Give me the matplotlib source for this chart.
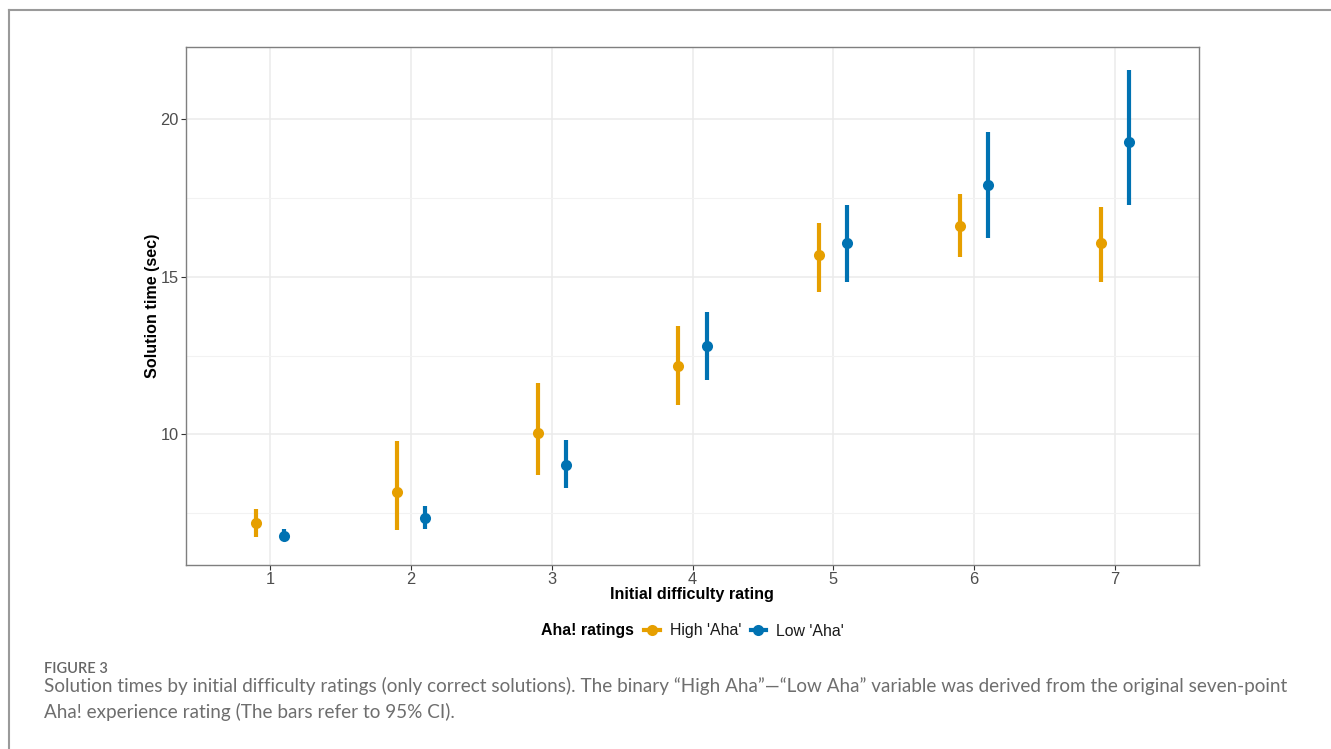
import matplotlib
matplotlib.use("Agg")
import matplotlib.pyplot as plt
from matplotlib.lines import Line2D
import numpy as np

# data (means and 95% CI)
ratings = [1, 2, 3, 4, 5, 6, 7]
high_mean = [7.17, 8.17, 10.04, 12.17, 15.69, 16.61, 16.09]
high_lo = [6.75, 6.95, 8.71, 10.93, 14.52, 15.63, 14.84]
high_hi = [7.62, 9.79, 11.63, 13.44, 16.71, 17.63, 17.22]
low_mean = [6.77, 7.33, 9.03, 12.80, 16.07, 17.91, 19.29]
low_lo = [6.61, 6.99, 8.30, 11.73, 14.84, 16.24, 17.28]
low_hi = [6.98, 7.73, 9.82, 13.88, 17.28, 19.60, 21.57]
group_names = ["High 'Aha'", "Low 'Aha'"]
orange = "#E69F00"
blue = "#0072B2"

plt.rcParams['font.family'] = ['Liberation Sans', 'DejaVu Sans']

fig = plt.figure(figsize=(13.31, 7.49), dpi=100)
W, H = 1331, 749
# axes box in pixels: left 186, right 1199, top 47, bottom 565
ax = fig.add_axes([186 / W, 1 - 565 / H, (1199 - 186) / W, (565 - 47) / H])

x = np.array(ratings, dtype=float)
for xs, m, lo, hi, c in [(x - 0.1, high_mean, high_lo, high_hi, orange),
                         (x + 0.1, low_mean, low_lo, low_hi, blue)]:
    ax.vlines(xs, lo, hi, color=c, lw=3, zorder=3)
    ax.plot(xs, m, 'o', color=c, ms=8, zorder=4, mec='none')

ax.set_xlim(0.4, 7.6)
ax.set_ylim(5.85, 22.3)
ax.set_xticks(ratings)
ax.set_yticks([10, 15, 20])
ax.set_yticks([7.5, 12.5, 17.5], minor=True)
ax.grid(True, which='major', color='#EBEBEB', lw=1.1, zorder=0)
ax.grid(True, which='minor', axis='y', color='#F2F2F2', lw=0.8, zorder=0)
ax.set_axisbelow(True)
ax.tick_params(axis='both', which='major', length=3.5, width=0.8, color='#333333',
               labelsize=11.8, labelcolor='#4D4D4D', pad=1.8)
ax.tick_params(axis='y', which='minor', length=0)
for s in ax.spines.values():
    s.set_color('#7F7F7F')
    s.set_linewidth(1.0)

fig.text(692 / W, 1 - 595 / H, "Initial difficulty rating", ha='center', va='center',
         fontsize=11.6, fontweight='bold')
fig.text(152 / W, 1 - 306 / H, "Solution time (sec)", ha='center', va='center',
         rotation=90, fontsize=11.6, fontweight='bold')

# legend at bottom, title inline
fig.text(541 / W, 1 - 631 / H, "Aha! ratings", ha='left', va='center',
         fontsize=11.4, fontweight='bold')
handles = [Line2D([0], [0], color=orange, lw=3, marker='o', ms=8, mec='none'),
           Line2D([0], [0], color=blue, lw=3, marker='o', ms=8, mec='none')]
leg = fig.legend(handles, group_names, loc='center left', bbox_to_anchor=(644 / W, 1 - 631 / H),
                 ncol=2, frameon=False, fontsize=11.4, handlelength=1.0, handletextpad=0.62,
                 columnspacing=0.6, borderpad=0, borderaxespad=0)
for t in leg.get_texts():
    t.set_color('#1A1A1A')

# page frame (top and left edges)
fig.add_artist(Line2D([9 / W, 1], [1 - 10 / H, 1 - 10 / H], color='#9A9A9A', lw=1.5))
fig.add_artist(Line2D([9 / W, 9 / W], [0, 1 - 10 / H], color='#9A9A9A', lw=1.5))

cap_font = ['Lato', 'DejaVu Sans']
fig.text(44 / W, 1 - 673 / H, "FIGURE 3", ha='left', va='baseline', fontsize=10.5,
         color='#666666', family=cap_font, fontweight='semibold')
fig.text(44 / W, 1 - 692 / H,
         "Solution times by initial difficulty ratings (only correct solutions). The binary \u201cHigh Aha\u201d\u2014\u201cLow Aha\u201d variable was derived from the original seven-point",
         ha='left', va='baseline', fontsize=13.6, color='#6E6E6E', family=cap_font)
fig.text(44 / W, 1 - 718 / H, "Aha! experience rating (The bars refer to 95% CI).",
         ha='left', va='baseline', fontsize=13.6, color='#6E6E6E', family=cap_font)

fig.savefig("out.png", dpi=100)
